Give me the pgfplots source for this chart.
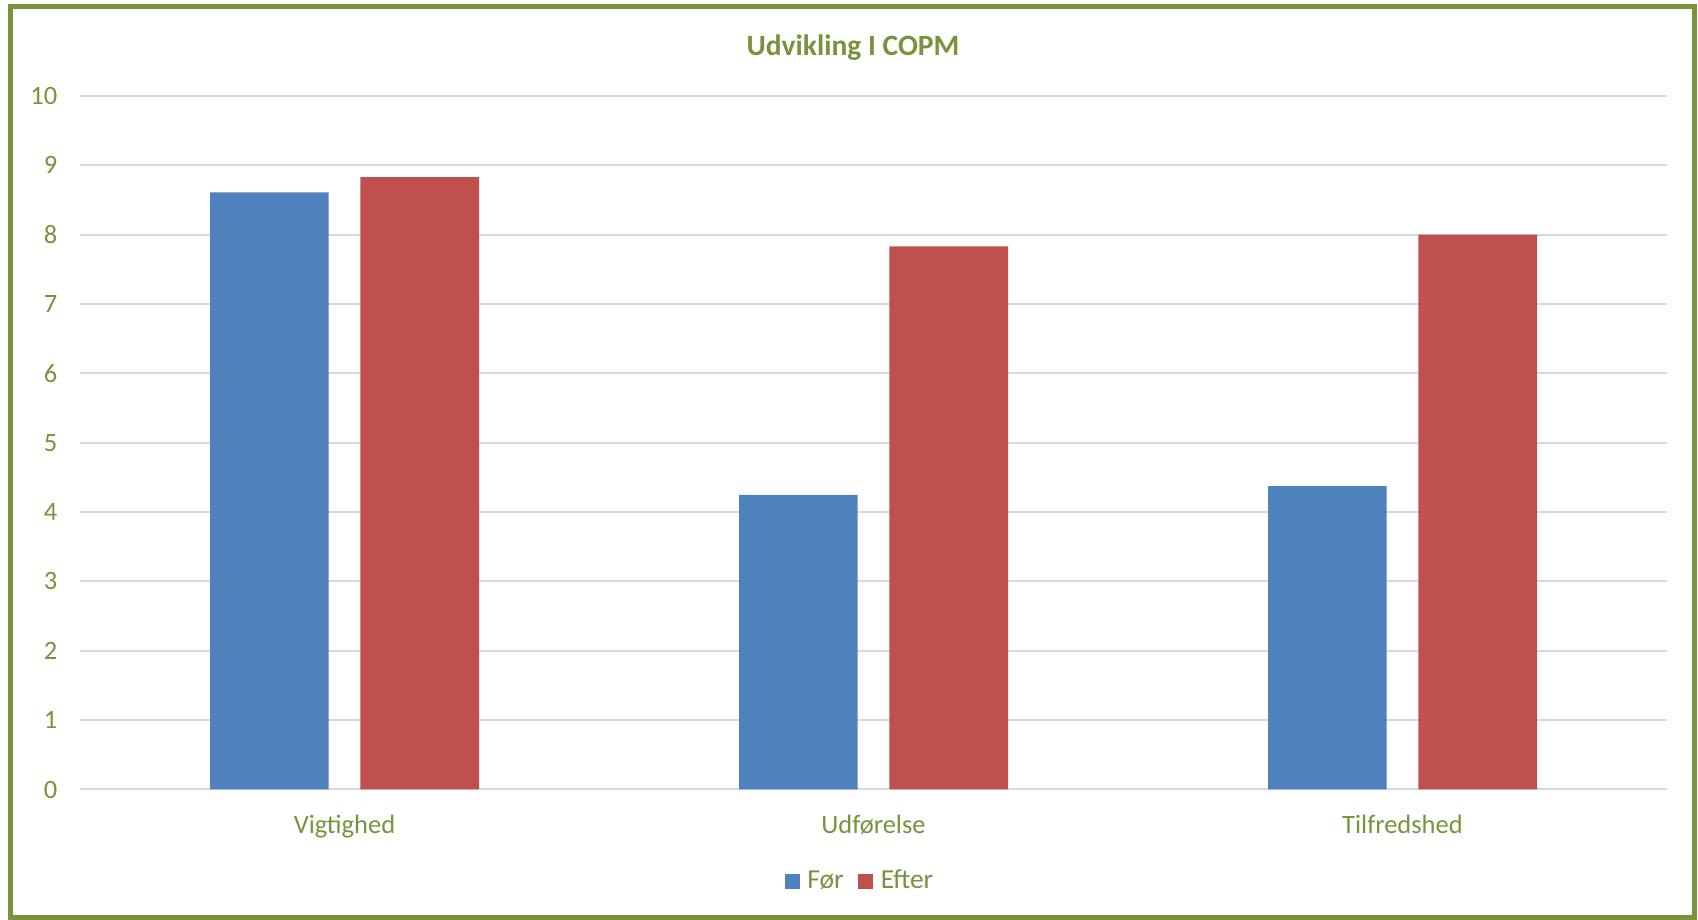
\documentclass[border=0pt]{standalone}
\usepackage{fontspec}
\setmainfont{Carlito}
\usepackage{pgfplots}
\pgfplotsset{compat=1.18}
\definecolor{copmgreen}{HTML}{77933C}
\definecolor{fblue}{HTML}{4F81BD}
\definecolor{ered}{HTML}{C0504D}
\definecolor{gridgray}{HTML}{D9D9D9}
\begin{document}
\begin{tikzpicture}
% page size and outer frame
\path[use as bounding box] (0bp,0bp) rectangle (849bp,460bp);
\draw[copmgreen, line width=2.5bp] (5.25bp,1bp) rectangle (847.25bp,456.75bp);
\node[font=\fontsize{14.8}{17}\selectfont\bfseries, text=copmgreen] at (426.5bp,436bp) {Udvikling I COPM};
\begin{axis}[
    at={(40bp,65.25bp)}, anchor=south west,
    scale only axis,
    width=793.5bp, height=346.75bp,
    xmin=-0.5, xmax=2.5,
    ymin=0, ymax=10,
    xtick={0,1,2},
    xticklabels={Vigtighed,Udførelse,Tilfredshed},
    ytick={0,1,...,10},
    ymajorgrids=true,
    grid style={gridgray, line width=1bp},
    axis line style={draw=none},
    major tick length=0pt,
    /pgf/number format/assume math mode=true,
    tick label style={font=\fontsize{13.3}{16}\selectfont, text=copmgreen},
    yticklabel style={xshift=-7.8bp},
    xticklabel style={yshift=-9.5bp},
    legend style={at={(0.492,-0.132)}, anchor=center, draw=none, fill=none,
        legend columns=2, font=\fontsize{13.8}{16.5}\selectfont, text=copmgreen,
        /tikz/every even column/.append style={column sep=5.5bp},
        nodes={inner sep=1.75bp}},
    legend image code/.code={\fill[#1] (0bp,-3.75bp) rectangle (7.5bp,3.75bp);
        \path (9.5bp,0bp);},
]
\addplot[ybar, bar width=59.3bp, bar shift=-37.6bp, fill=fblue, draw=none]
    coordinates {(0,8.61) (1,4.25) (2,4.375)};
\addplot[ybar, bar width=59.3bp, bar shift=37.6bp, fill=ered, draw=none]
    coordinates {(0,8.83) (1,7.83) (2,8.0)};
\legend{Før,Efter}
\end{axis}
\end{tikzpicture}
\end{document}
